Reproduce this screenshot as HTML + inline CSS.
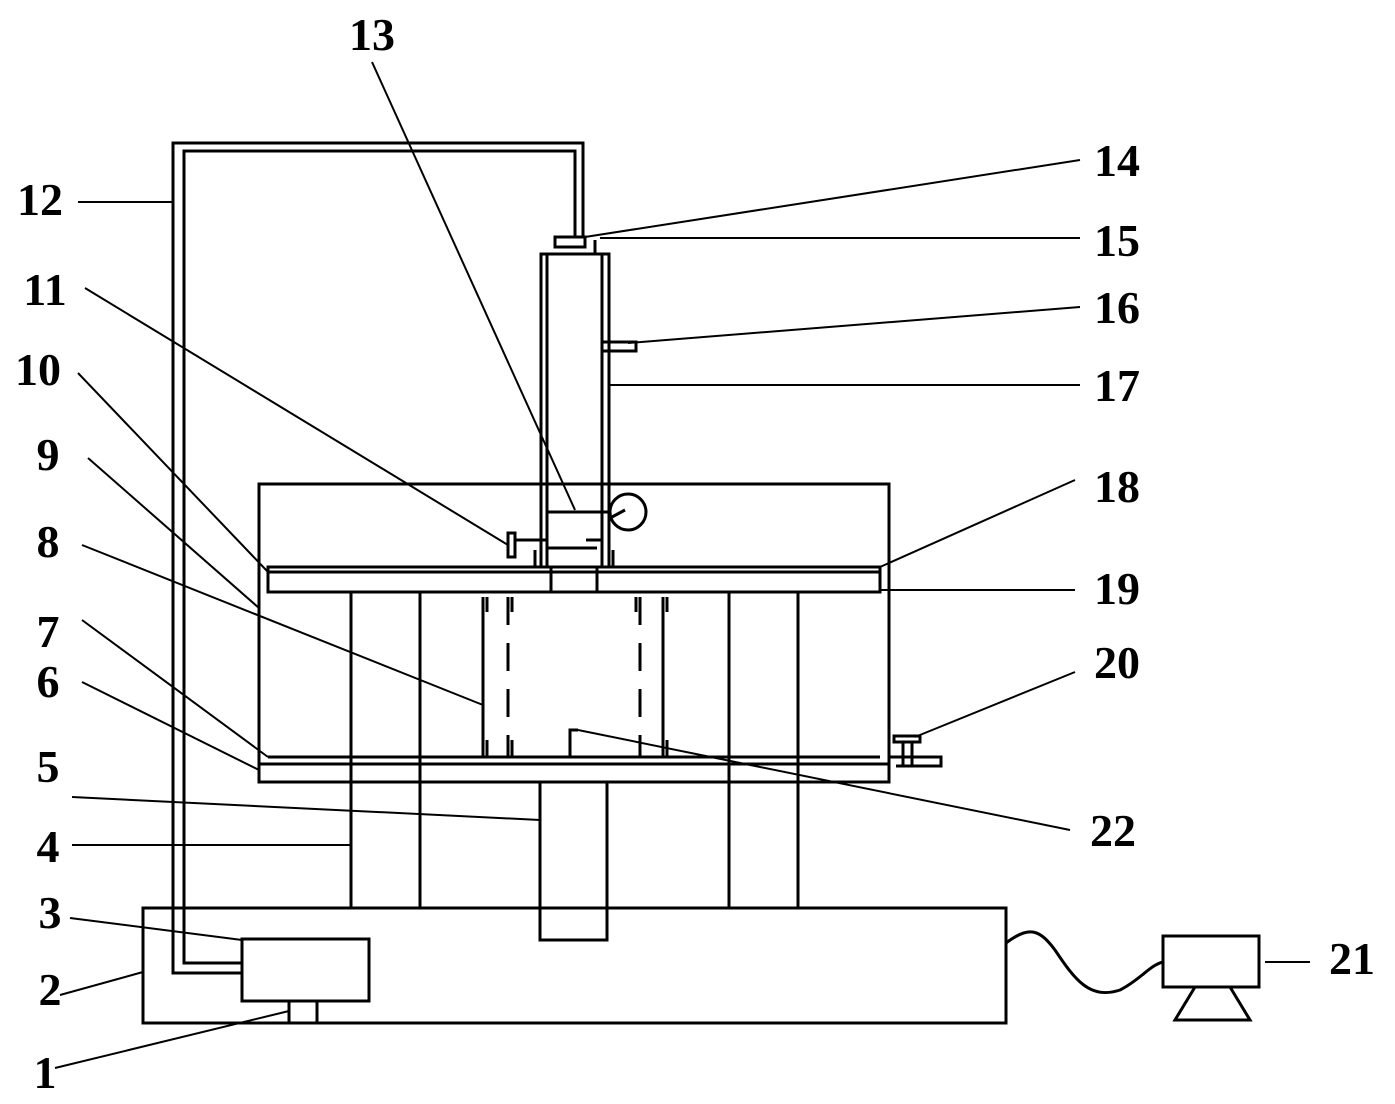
<!DOCTYPE html>
<html><head><meta charset="utf-8"><style>
html,body{margin:0;padding:0;background:#fff}
svg{display:block}
text{font-family:"Liberation Serif",serif;font-size:46px;font-weight:bold;fill:#000}
</style></head><body>
<svg width="1395" height="1104" viewBox="0 0 1395 1104" xmlns="http://www.w3.org/2000/svg">
<g fill="none" stroke="#000" stroke-width="3">
<!-- base -->
<rect x="143" y="908" width="863" height="115"/>
<rect x="242" y="939" width="127" height="62"/>
<line x1="289" y1="1001" x2="289" y2="1023"/><line x1="317" y1="1001" x2="317" y2="1023"/>
<!-- pipe 12 -->
<polyline points="242,973 173,973 173,143 583,143 583,238"/>
<polyline points="242,963 184,963 184,151 575,151 575,238"/>
<!-- columns 4 -->
<line x1="351" y1="592" x2="351" y2="908"/><line x1="420" y1="592" x2="420" y2="908"/>
<line x1="729" y1="592" x2="729" y2="908"/><line x1="798" y1="592" x2="798" y2="908"/>
<!-- 5 -->
<rect x="540" y="782" width="67" height="158"/>
<!-- tank -->
<rect x="259" y="484" width="630" height="298"/>
<!-- upper plate -->
<rect x="268" y="567" width="612" height="25"/>
<line x1="268" y1="572" x2="880" y2="572"/>
<!-- lower plate -->
<line x1="268" y1="757" x2="880" y2="757"/>
<line x1="259" y1="764" x2="889" y2="764"/>
<!-- column 17 -->
<rect x="541" y="254" width="68" height="313"/>
<line x1="547" y1="254" x2="547" y2="567"/><line x1="602" y1="254" x2="602" y2="567"/>
<line x1="551" y1="567" x2="551" y2="592"/><line x1="597" y1="567" x2="597" y2="592"/>
<line x1="547" y1="512" x2="609" y2="512"/>
<line x1="547" y1="548" x2="597" y2="548"/>
<line x1="514" y1="540" x2="548" y2="540"/>
<line x1="586" y1="540" x2="602" y2="540"/>
<line x1="535" y1="550" x2="535" y2="567"/>
<line x1="613" y1="550" x2="613" y2="567"/>
<rect x="508" y="533" width="7" height="24"/>
<circle cx="628" cy="512" r="18"/>
<line x1="612" y1="517" x2="625" y2="510"/>
<!-- valve 14 -->
<rect x="555" y="237" width="30" height="10"/>
<line x1="595" y1="240" x2="595" y2="254"/>
<!-- valve 16 -->
<rect x="602" y="342" width="34" height="9"/>
<!-- specimen -->
<line x1="483" y1="597" x2="483" y2="757"/>
<line x1="663" y1="597" x2="663" y2="757"/>
<line x1="508" y1="597" x2="508" y2="757" stroke-dasharray="28,18"/>
<line x1="640" y1="597" x2="640" y2="757" stroke-dasharray="28,18"/>
<line x1="487" y1="597" x2="487" y2="612"/><line x1="512" y1="597" x2="512" y2="612"/>
<line x1="636" y1="597" x2="636" y2="612"/><line x1="667" y1="597" x2="667" y2="612"/>
<line x1="487" y1="740" x2="487" y2="757"/><line x1="512" y1="740" x2="512" y2="757"/>
<line x1="667" y1="740" x2="667" y2="757"/>
<polyline points="570,757 570,730 578,730"/>
<!-- valve 20 -->
<polyline points="889,750 889,757 941,757 941,766 896,766"/>
<rect x="894" y="736" width="26" height="6"/>
<line x1="903" y1="742" x2="903" y2="766"/><line x1="912" y1="742" x2="912" y2="766"/>
<!-- monitor -->
<rect x="1163" y="936" width="96" height="51"/>
<polygon points="1195,987 1230,987 1250,1020 1175,1020"/>
<path d="M1006,943 C1030,925 1040,930 1055,950 C1075,980 1090,1000 1120,990 C1140,980 1150,965 1163,962"/>
</g>
<g fill="none" stroke="#000" stroke-width="2">
<line x1="372" y1="62" x2="575" y2="510"/>
<line x1="1080" y1="160" x2="585" y2="237"/>
<line x1="1080" y1="238" x2="600" y2="238"/>
<line x1="1080" y1="307" x2="628" y2="343"/>
<line x1="1080" y1="385" x2="609" y2="385"/>
<line x1="1075" y1="480" x2="880" y2="567"/>
<line x1="1075" y1="590" x2="880" y2="590"/>
<line x1="1075" y1="672" x2="915" y2="737"/>
<line x1="1070" y1="830" x2="578" y2="730"/>
<line x1="1265" y1="962" x2="1310" y2="962"/>
<line x1="78" y1="202" x2="173" y2="202"/>
<line x1="85" y1="288" x2="508" y2="545"/>
<line x1="78" y1="373" x2="268" y2="572"/>
<line x1="88" y1="458" x2="259" y2="608"/>
<line x1="82" y1="545" x2="483" y2="705"/>
<line x1="82" y1="620" x2="268" y2="757"/>
<line x1="82" y1="682" x2="259" y2="770"/>
<line x1="72" y1="797" x2="540" y2="820"/>
<line x1="72" y1="845" x2="351" y2="845"/>
<line x1="70" y1="918" x2="242" y2="940"/>
<line x1="60" y1="995" x2="143" y2="972"/>
<line x1="55" y1="1068" x2="289" y2="1011"/>
</g>
<g text-anchor="middle">
<text x="372" y="50">13</text>
<text x="1117" y="176">14</text>
<text x="1117" y="256">15</text>
<text x="1117" y="323">16</text>
<text x="1117" y="401">17</text>
<text x="1117" y="502">18</text>
<text x="1117" y="604">19</text>
<text x="1117" y="678">20</text>
<text x="1113" y="846">22</text>
<text x="1352" y="974">21</text>
<text x="40" y="215">12</text>
<text x="45" y="305">11</text>
<text x="38" y="385">10</text>
<text x="48" y="470">9</text>
<text x="48" y="557">8</text>
<text x="48" y="647">7</text>
<text x="48" y="697">6</text>
<text x="48" y="782">5</text>
<text x="48" y="862">4</text>
<text x="50" y="928">3</text>
<text x="50" y="1005">2</text>
<text x="45" y="1088">1</text>
</g>
</svg>
</body></html>
